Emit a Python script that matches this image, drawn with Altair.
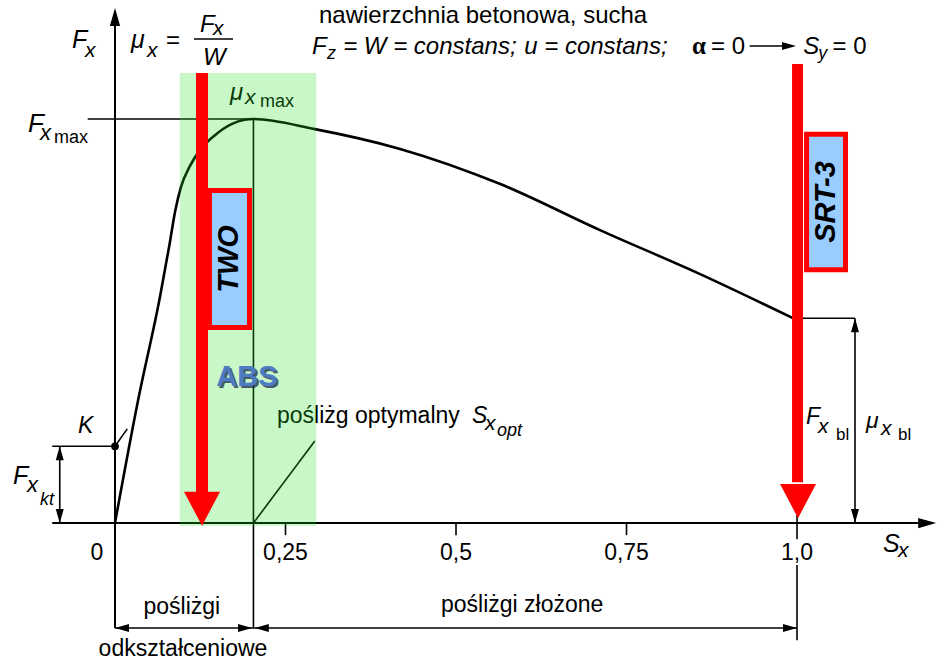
import altair as alt
import pandas as pd

# ---------------- data (slip ratio S_x, normalised force F_x / F_x,max) ----------------
slip_rise = [0.0, 0.034, 0.066, 0.080, 0.088, 0.0968, 0.110, 0.1246, 0.1466, 0.1716, 0.190, 0.203]
force_rise = [0.0, 0.305, 0.560, 0.690, 0.770, 0.832, 0.884, 0.923, 0.960, 0.988, 0.998, 1.0]
slip_fall = [0.293, 0.418, 0.565, 0.711, 0.858, 0.994]
force_fall = [0.975, 0.926, 0.839, 0.725, 0.616, 0.507]

tick_values = [0.25, 0.5, 0.75, 1.0]
tick_labels = ["0,25", "0,5", "0,75", "1,0"]

s_opt = 0.203        # optimal slip (peak)
f_kt = 0.19          # K point force
f_bl = 0.507         # locked-wheel force
abs_band = [0.095, 0.295]

# ---------------- scales (whole canvas is the plot area) ----------------
W, H = 938, 664
XS = alt.Scale(domain=[-0.1686, 1.2067], nice=False, zero=False)
YS = alt.Scale(domain=[-0.349, 1.2946], nice=False, zero=False)
FONT = "Liberation Sans"


def enc(chart, **extra):
    return chart.encode(
        x=alt.X("x:Q", scale=XS, axis=None),
        y=alt.Y("y:Q", scale=YS, axis=None),
        **extra,
    )


def label(text, x, y, size=23, style="normal", weight="normal", color="black",
          align="left", baseline="alphabetic", angle=0, font=FONT, dx=0, dy=0, opacity=1.0):
    src = pd.DataFrame({"x": [x], "y": [y], "t": [text]})
    m = alt.Chart(src).mark_text(font=font, fontSize=size, fontStyle=style, fontWeight=weight,
                                 color=color, align=align, baseline=baseline, angle=angle,
                                 dx=dx, dy=dy, opacity=opacity)
    return enc(m, text="t:N")


def segments(rows, width=1.6, color="black"):
    src = pd.DataFrame(rows, columns=["x", "y", "x2", "y2"])
    return alt.Chart(src).mark_rule(strokeWidth=width, color=color).encode(
        x=alt.X("x:Q", scale=XS, axis=None), y=alt.Y("y:Q", scale=YS, axis=None),
        x2="x2:Q", y2="y2:Q")


def heads(points, shape, size, color="black"):
    src = pd.DataFrame(points, columns=["x", "y"])
    return enc(alt.Chart(src).mark_point(shape=shape, size=size, filled=True, color=color,
                                         opacity=1, strokeWidth=0))


def box(x, x2, y, y2, fill, stroke=None, sw=0, opacity=1.0):
    src = pd.DataFrame({"x": [x], "x2": [x2], "y": [y], "y2": [y2]})
    props = dict(fill=fill, fillOpacity=opacity, strokeWidth=sw)
    if stroke:
        props["stroke"] = stroke
    return alt.Chart(src).mark_rect(**props).encode(
        x=alt.X("x:Q", scale=XS, axis=None), y=alt.Y("y:Q", scale=YS, axis=None),
        x2="x2:Q", y2="y2:Q")


RIGHT = "M0,0L-2,-0.57L-2,0.57Z"
LEFT = "M0,0L2,-0.57L2,0.57Z"
UP = "M0,0L-0.57,2L0.57,2Z"
DOWN = "M0,0L-0.57,-2L0.57,-2Z"
BIG_DOWN = "M0,0L-1,-1.9L1,-1.9Z"

layers = []

# curve
curve = pd.DataFrame({"x": slip_rise + slip_fall, "y": force_rise + force_fall})
layers.append(enc(alt.Chart(curve).mark_line(color="black", strokeWidth=2.6, interpolate="monotone")))

# axes
layers.append(segments([(-0.092, 0, 1.19, 0), (0, -0.26, 0, 1.255)], width=2))
layers.append(heads([(1.204, 0)], RIGHT, 324))
layers.append(heads([(0, 1.275)], UP, 324))

# reference and dimension lines
layers.append(segments([
    (-0.04, 1.0, s_opt, 1.0),
    (s_opt, -0.26, s_opt, 1.0),
    (0, -0.26, 1.0, -0.26),
    (1.0, -0.104, 1.0, -0.29),
    (1.0, 0.02, 1.0, -0.04),
    (-0.092, f_kt, 0, f_kt),
    (-0.081, 0, -0.081, f_kt),
    (0.994, f_bl, 1.085, f_bl),
    (1.085, 0, 1.085, f_bl),
    (s_opt, 0, 0.293, 0.203),
    (0, f_kt, 0.018, 0.233),
    (0.1158, 1.198, 0.173, 1.198),
    (0.9305, 1.1807, 0.99, 1.1807),
], width=1.6))
layers.append(segments([(v, 0, v, -0.03) for v in tick_values[:3]], width=1.6))
layers.append(heads([(0, -0.26), (0.205, -0.26)], LEFT, 196))
layers.append(heads([(0.201, -0.26), (1.0, -0.26), (0.9985, 1.1807)], RIGHT, 196))
layers.append(heads([(-0.081, f_kt), (1.085, f_bl)], UP, 196))
layers.append(heads([(-0.081, 0.0), (1.085, 0.0)], DOWN, 196))
layers.append(enc(alt.Chart(pd.DataFrame({"x": [0.0], "y": [f_kt]})).mark_point(
    shape="circle", size=60, filled=True, color="black", opacity=1)))

# tick labels
layers.append(label("0", -0.0264, -0.0916, align="center"))
for v, t in zip(tick_values, tick_labels):
    layers.append(label(t, v, -0.0916, align="center"))
layers.append(label("S", 1.1261, -0.0718, size=25, style="italic"))
layers.append(label("x", 1.1481, -0.0842, size=21, style="italic"))

# top-left formula
layers.append(label("F", -0.063, 1.1757, size=25, style="italic"))
layers.append(label("x", -0.044, 1.1535, size=21, style="italic"))
layers.append(label("μ", 0.0235, 1.1757, size=25, style="italic"))
layers.append(label("x", 0.0469, 1.1535, size=21, style="italic"))
layers.append(label("=", 0.0748, 1.1757, size=24))
layers.append(label("F", 0.1246, 1.2153, size=24, style="italic"))
layers.append(label("x", 0.1437, 1.2079, size=21, style="italic"))
layers.append(label("W", 0.129, 1.1337, size=24, style="italic"))

# header text
layers.append(label("nawierzchnia betonowa, sucha", 0.2991, 1.2376, size=24))
layers.append(label("F", 0.2889, 1.1609, size=24, style="italic"))
layers.append(label("z", 0.3109, 1.1485, size=18, style="italic"))
layers.append(label("= W = constans;", 0.3345, 1.1609, size=24, style="italic"))
layers.append(label("u = constans;", 0.6000, 1.1609, size=24, style="italic"))
layers.append(label("α", 0.8460, 1.1609, size=25, weight="bold", font="Liberation Serif"))
layers.append(label("= 0", 0.8740, 1.1609, size=24))
layers.append(label("S", 1.0090, 1.1609, size=24, style="italic"))
layers.append(label("y", 1.0310, 1.1485, size=18, style="italic"))
layers.append(label("= 0", 1.0520, 1.1609, size=24))

# F_x max
layers.append(label("F", -0.1276, 0.9678, size=26, style="italic"))
layers.append(label("x", -0.110, 0.948, size=22, style="italic"))
layers.append(label("max", -0.0894, 0.9406, size=18))
# mu_x max
layers.append(label("μ", 0.1686, 1.047, size=24, style="italic"))
layers.append(label("x", 0.1906, 1.037, size=21, style="italic"))
layers.append(label("max", 0.2126, 1.0297, size=18))

# K and F_x kt
layers.append(label("K", -0.0543, 0.2228, size=23, style="italic"))
layers.append(label("F", -0.1496, 0.0965, size=25, style="italic"))
layers.append(label("x", -0.129, 0.0767, size=22, style="italic"))
layers.append(label("kt", -0.110, 0.0446, size=18, style="italic"))

# optimal slip
layers.append(label("pośliżg optymalny", 0.2375, 0.2475, size=23))
layers.append(label("S", 0.5235, 0.2475, size=23, style="italic"))
layers.append(label("x", 0.5425, 0.2302, size=21, style="italic"))
layers.append(label("opt", 0.560, 0.2153, size=18, style="italic"))

# locked wheel
layers.append(label("F", 1.0132, 0.245, size=23, style="italic"))
layers.append(label("x", 1.0308, 0.2228, size=21, style="italic"))
layers.append(label("bl", 1.0572, 0.2054, size=17))
layers.append(label("μ", 1.1012, 0.2351, size=23, style="italic"))
layers.append(label("x", 1.1232, 0.2178, size=21, style="italic"))
layers.append(label("bl", 1.1481, 0.2054, size=17))

# bottom ranges
layers.append(label("pośliżgi", 0.098, -0.2252, size=23, align="center"))
layers.append(label("odkształceniowe", 0.0997, -0.329, size=23, align="center"))
layers.append(label("pośliżgi złożone", 0.597, -0.2203, size=23, align="center"))

# green ABS band (translucent overlay)
layers.append(box(abs_band[0], abs_band[1], -0.007, 1.114, fill="#23e323", opacity=0.25))

# red arrows with boxes
layers.append(box(0.1188, 0.1364, 0.077, 1.114, fill="#ff0000"))
layers.append(box(0.9927, 1.0088, 0.101, 1.136, fill="#ff0000"))
layers.append(heads([(0.1276, -0.007), (1.0015, 0.012)], BIG_DOWN, 1296, color="#ff0000"))
layers.append(box(0.1385, 0.1972, 0.484, 0.823, fill="#99ccff", stroke="#ff0000", sw=5))
layers.append(box(1.0140, 1.0711, 0.627, 0.962, fill="#99ccff", stroke="#ff0000", sw=5))
layers.append(label("TWO", 0.1672, 0.6535, size=29, style="italic", weight="bold",
                    align="center", baseline="middle", angle=270))
layers.append(label("SRT-3", 1.0425, 0.7946, size=29, style="italic", weight="bold",
                    align="center", baseline="middle", angle=270))

# ABS lettering with shadow
layers.append(label("ABS", 0.1935, 0.361, size=29, weight="bold", color="#1b2a48",
                    align="center", baseline="middle", dx=2, dy=2, opacity=0.75))
layers.append(label("ABS", 0.1935, 0.361, size=29, weight="bold", color="#4d7cc4",
                    align="center", baseline="middle"))

chart = alt.layer(*layers).properties(
    width=W, height=H, padding=0,
    autosize=alt.AutoSizeParams(type="none"),
    background="white",
).configure_view(strokeWidth=0)

chart.save("out.html", embed_options={"renderer": "svg", "actions": False})
